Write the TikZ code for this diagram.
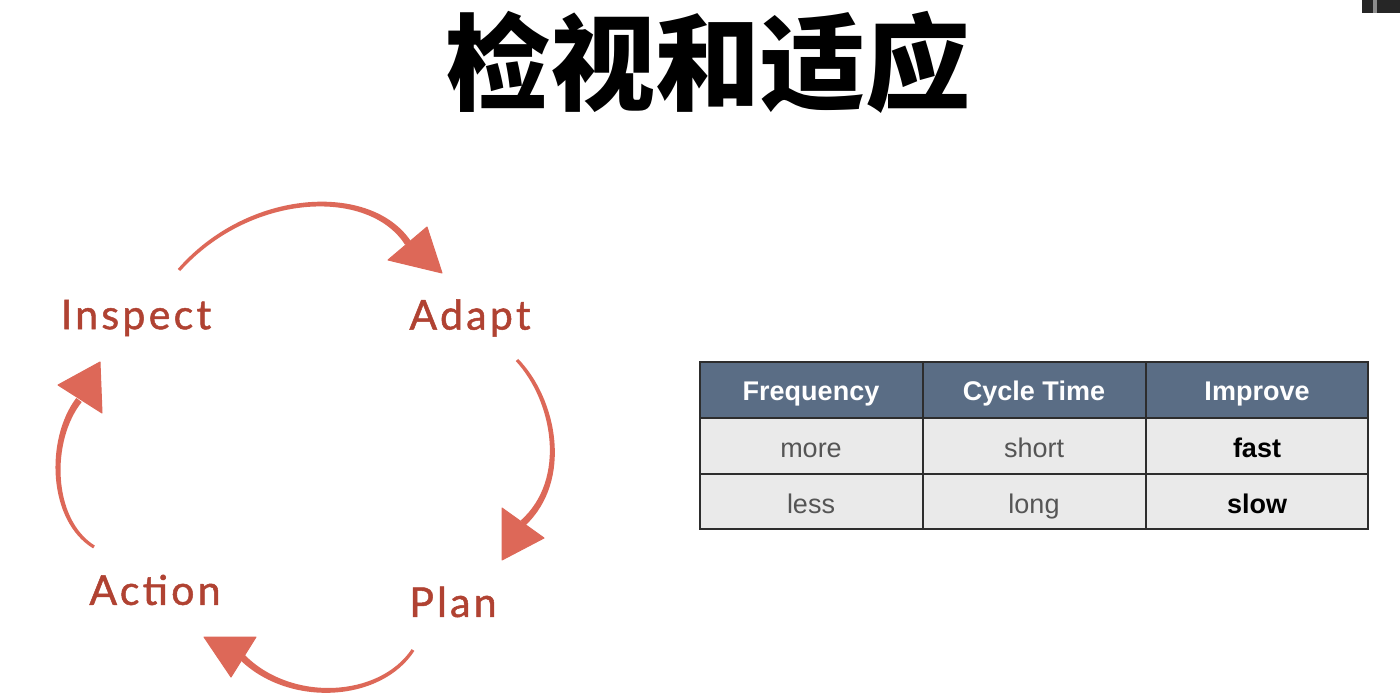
\documentclass[tikz,border=0pt]{standalone}
\usetikzlibrary{calc}
\usepackage{fontspec}
\setmainfont{Liberation Sans}
\newfontfamily\cjk{Noto Sans CJK SC}
\newfontfamily\hand[LetterSpace=8,FakeBold=1.2]{Lato}
\definecolor{arc}{RGB}{221,104,88}
\definecolor{lbl}{RGB}{176,66,50}
\definecolor{hdr}{RGB}{90,109,133}
\definecolor{cellbg}{RGB}{234,234,234}
\definecolor{celltxt}{RGB}{85,85,85}
\definecolor{grid}{RGB}{45,45,45}
\tikzset{
  head/.style={fill=arc,draw=arc,line width=1pt,line join=round},
  cyclbl/.style={text=lbl,font=\hand\fontsize{41}{43}\selectfont,inner sep=0pt},
  hcell/.style={anchor=base,text=white,font=\bfseries\fontsize{27}{30}\selectfont,inner sep=0pt},
  bcell/.style={anchor=base,text=celltxt,font=\fontsize{27}{30}\selectfont,inner sep=0pt},
  bbold/.style={anchor=base,text=black,font=\bfseries\fontsize{27}{30}\selectfont,inner sep=0pt},
  gridline/.style={draw=grid,line width=1.6pt},
}
% tapered arc: start point, control 1, control 2, end point (named coordinates)
\newcommand\taperarc[4]{%
  \path ($(#1)!2.5pt!90:(#3)$) coordinate (tpA) ($(#2)!3.1pt!90:(#4)$) coordinate (tpB);
  \fill[arc] ($(#1)!1.6pt!90:(#2)$)
    .. controls ($(#2)+(tpA)-(#1)$) and ($(#3)+(tpB)-(#2)$) .. ($(#4)!3.4pt!-90:(#3)$)
    -- ($(#4)!3.4pt!90:(#3)$)
    .. controls ($(#3)-(tpB)+(#2)$) and ($(#2)-(tpA)+(#1)$) .. ($(#1)!1.6pt!-90:(#2)$)
    -- cycle;}
\begin{document}
\begin{tikzpicture}[x=1pt,y=-1pt]
\useasboundingbox (0,0) rectangle (1400,696);
\fill[white] (0,0) rectangle (1400,696);
% corner artifact
\fill[black!85] (1362,0) rectangle (1400,13);
\fill[black!45] (1373,0) rectangle (1377,13);
% title
\node[font=\cjk\bfseries\fontsize{105}{110}\selectfont,inner sep=0pt] (title) at (708,62) {检视和适应};
% cycle labels
\node[cyclbl] (inspect) at (136,318) {Inspect};
\node[cyclbl] (adapt) at (470,318) {Adapt};
\node[cyclbl] (action) at (155,590) {Action};
\node[cyclbl] (plan) at (453,602) {Plan};
% arcs
\coordinate (t0) at (179,270); \coordinate (tc1) at (250,190); \coordinate (tc2) at (370,185); \coordinate (t1) at (408,243);
\taperarc{t0}{tc1}{tc2}{t1}
\fill[head] (388,260) -- (427,227) -- (442,273) -- cycle;
\coordinate (r0) at (517,360); \coordinate (rc1) at (555,400); \coordinate (rc2) at (570,480); \coordinate (r1) at (523,523);
\taperarc{r0}{rc1}{rc2}{r1}
\fill[head] (502,508) -- (544,538) -- (502,560) -- cycle;
\coordinate (b0) at (413,650); \coordinate (bc1) at (380,700); \coordinate (bc2) at (290,705); \coordinate (b1) at (242,657);
\taperarc{b0}{bc1}{bc2}{b1}
\fill[head] (256,637) -- (231,677) -- (204,637) -- cycle;
\coordinate (l0) at (94,547); \coordinate (lc1) at (50,520); \coordinate (lc2) at (48,440); \coordinate (l1) at (79,400);
\taperarc{l0}{lc1}{lc2}{l1}
\fill[head] (58,385) -- (102,413) -- (100,362) -- cycle;
% table
\fill[hdr] (700,362) rectangle (1368,418);
\fill[cellbg] (700,418) rectangle (1368,529);
\draw[gridline] (700,362) rectangle (1368,529);
\draw[gridline] (700,418) -- (1368,418);
\draw[gridline] (700,474) -- (1368,474);
\draw[gridline] (923,362) -- (923,529);
\draw[gridline] (1146,362) -- (1146,529);
\node[hcell] (h1) at (811,400) {Frequency};
\node[hcell] (h2) at (1034,400) {Cycle Time};
\node[hcell] (h3) at (1257,400) {Improve};
\node[bcell] (c11) at (811,457) {more};
\node[bcell] (c12) at (1034,457) {short};
\node[bbold] (c13) at (1257,457) {fast};
\node[bcell] (c21) at (811,513) {less};
\node[bcell] (c22) at (1034,513) {long};
\node[bbold] (c23) at (1257,513) {slow};
\end{tikzpicture}
\end{document}
